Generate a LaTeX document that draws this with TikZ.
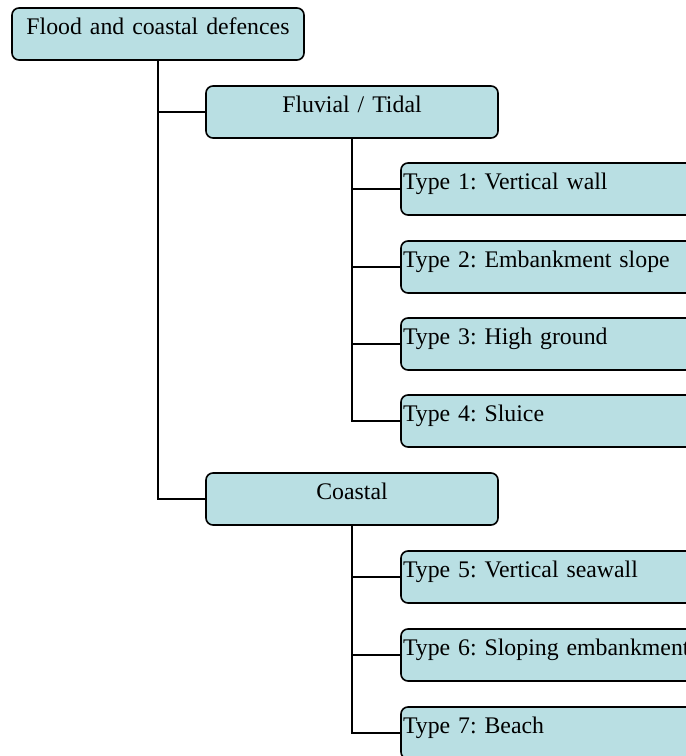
\documentclass[tikz,border=0pt]{standalone}
\usepackage{fontspec}
\setmainfont{Liberation Serif}
\definecolor{boxfill}{RGB}{185,223,227}
\tikzset{
  box/.style={draw=black, fill=boxfill, line width=1.6pt, rounded corners=7pt,
    inner xsep=0pt, inner ysep=0pt, text height=26pt, text depth=26pt,
    font=\fontsize{23.8}{28}\selectfont\frenchspacing},
  midbox/.style={box, text width=292pt, align=center},
  typebox/.style={box, inner xsep=2pt, text width=396pt, align=left},
  conn/.style={draw=black, line width=2.2pt}
}
\begin{document}
\begin{tikzpicture}[x=1pt, y=-1pt]
\clip (0,0) rectangle (686,756);
\fill[white] (0,0) rectangle (686,756);
\node[midbox] (root) at (158,34) {Flood and coastal defences};
\node[midbox] (fluv) at (352,112) {Fluvial / Tidal};
\node[midbox] (coast) at (352,499) {Coastal};
\node[typebox] (t1) at (601,189) {Type 1: Vertical wall};
\node[typebox] (t2) at (601,267) {Type 2: Embankment slope};
\node[typebox] (t3) at (601,344) {Type 3: High ground};
\node[typebox] (t4) at (601,421) {Type 4: Sluice};
\node[typebox] (t5) at (601,577) {Type 5: Vertical seawall};
\node[typebox] (t6) at (601,655) {Type 6: Sloping embankment};
\node[typebox] (t7) at (601,733) {Type 7: Beach};
\draw[conn] (root.south) |- (fluv.west);
\draw[conn] (root.south) |- (coast.west);
\foreach \t in {t1,t2,t3,t4} \draw[conn] (fluv.south) |- (\t.west);
\foreach \t in {t5,t6,t7} \draw[conn] (coast.south) |- (\t.west);
\end{tikzpicture}
\end{document}
